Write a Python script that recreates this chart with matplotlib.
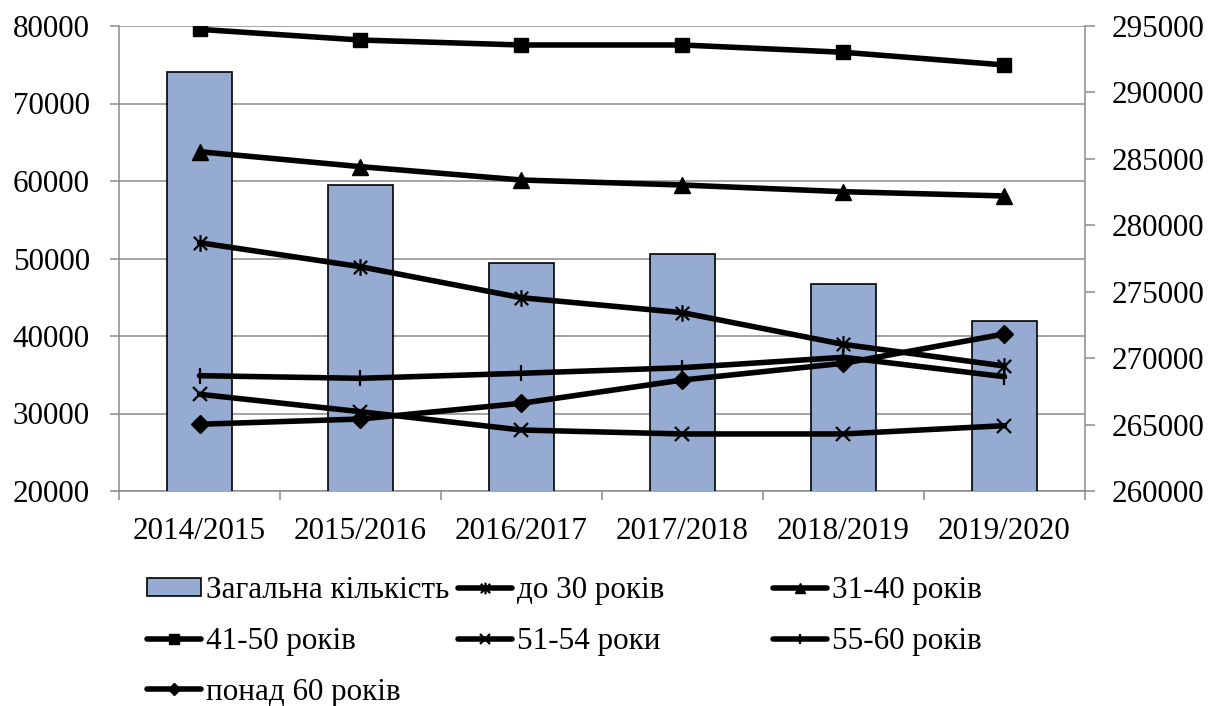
import numpy as np
import matplotlib
matplotlib.use("Agg")
import matplotlib.pyplot as plt
from matplotlib.path import Path

plt.rcParams['font.family'] = ['Liberation Serif', 'DejaVu Serif']
FS = 22.4

years = ["2014/2015", "2015/2016", "2016/2017", "2017/2018", "2018/2019", "2019/2020"]
total = [291550, 283060, 277180, 277860, 275570, 272800]
age_30 = [52040, 48940, 44940, 43010, 38920, 36130]
age_31_40 = [63780, 61850, 60130, 59480, 58620, 58070]
age_41_50 = [79570, 78190, 77550, 77550, 76610, 74970]
age_51_54 = [32480, 30230, 27870, 27360, 27360, 28430]
age_55_60 = [34880, 34540, 35190, 35910, 37250, 34750]
age_60p = [28610, 29290, 31320, 34320, 36480, 40260]

labels = ["Загальна кількість", "до 30 років", "31-40 років", "41-50 років",
          "51-54 роки", "55-60 років", "понад 60 років"]

W, H = 1222, 706
fig = plt.figure(figsize=(W / 100, H / 100), dpi=100)
L, R, T, B = 119, 1085, 26, 491
rect = [L / W, 1 - B / H, (R - L) / W, (B - T) / H]

GRAY = '#8a8a8a'
x = np.arange(len(years))

ax_grid = fig.add_axes(rect)
ax_grid.set_zorder(0)
ax_grid.set_xlim(-0.5, len(years) - 0.5)
ax_grid.set_ylim(20000, 80000)
ax_grid.set_yticks(np.arange(20000, 80001, 10000))
ax_grid.yaxis.grid(True, color=GRAY, linewidth=1.1)
ax_grid.set_axisbelow(True)
for s in ['top', 'right']:
    ax_grid.spines[s].set_visible(False)
for s in ['left', 'bottom']:
    ax_grid.spines[s].set_color(GRAY)
    ax_grid.spines[s].set_linewidth(1.1)
ax_grid.set_xticks(np.arange(-0.5, len(years), 1.0))
ax_grid.set_xticklabels([])
ax_grid.set_xticks(x, minor=True)
ax_grid.set_xticklabels(years, minor=True)
ax_grid.tick_params(axis='x', which='major', length=6.5, width=1.1, color=GRAY, direction='out')
ax_grid.tick_params(axis='x', which='minor', length=0, pad=18.5, labelsize=FS)
ax_grid.tick_params(axis='y', length=6.5, width=1.1, color=GRAY, direction='out', pad=14.4, labelsize=FS)

ax_bars = ax_grid.twinx()
ax_bars.set_zorder(1)
ax_bars.patch.set_visible(False)
ax_bars.set_ylim(260000, 295000)
ax_bars.set_yticks(np.arange(260000, 295001, 5000))
for s in ['top', 'left', 'bottom']:
    ax_bars.spines[s].set_visible(False)
ax_bars.spines['right'].set_color(GRAY)
ax_bars.spines['right'].set_linewidth(1.1)
ax_bars.tick_params(axis='y', length=7, width=1.1, color=GRAY, direction='out', pad=12.2, labelsize=FS)
bars = ax_bars.bar(x, total, width=0.4, color='#95abd2', edgecolor='black', linewidth=1.2)

ax_lines = ax_grid.twinx()
ax_lines.set_zorder(2)
ax_lines.patch.set_visible(False)
ax_lines.set_ylim(20000, 80000)
ax_lines.set_yticks([])
for s in ax_lines.spines.values():
    s.set_visible(False)

star = Path([(-1, -1), (1, 1), (-1, 1), (1, -1), (0, -1.25), (0, 1.25)],
            [Path.MOVETO, Path.LINETO, Path.MOVETO, Path.LINETO, Path.MOVETO, Path.LINETO])

LW = 4
kw = dict(color='black', linewidth=LW, solid_joinstyle='round', solid_capstyle='round')
l30, = ax_lines.plot(x, age_30, marker=star, markersize=12, markeredgewidth=1.6, **kw)
l31, = ax_lines.plot(x, age_31_40, marker='^', markersize=11, **kw)
l41, = ax_lines.plot(x, age_41_50, marker='s', markersize=10.5, **kw)
l51, = ax_lines.plot(x, age_51_54, marker='x', markersize=10, markeredgewidth=1.6, **kw)
l55, = ax_lines.plot(x, age_55_60, marker='|', markersize=11, markeredgewidth=1.6, **kw)
l60, = ax_lines.plot(x, age_60p, marker='D', markersize=9, **kw)

cols = [
    (146.7, [bars, l41, l60], [labels[0], labels[3], labels[6]]),
    (458, [l30, l51], [labels[1], labels[4]]),
    (773, [l31, l55], [labels[2], labels[5]]),
]
for xp, hs, ls in cols:
    leg = fig.legend(hs, ls, loc='upper left', bbox_to_anchor=(xp / W, 1 - 576 / H),
                     bbox_transform=fig.transFigure, frameon=False, fontsize=FS,
                     borderpad=0, borderaxespad=0, handlelength=1.75, handletextpad=0.15,
                     handleheight=0.55, labelspacing=0.7, markerscale=0.7)

fig.savefig('out.png', dpi=100)
